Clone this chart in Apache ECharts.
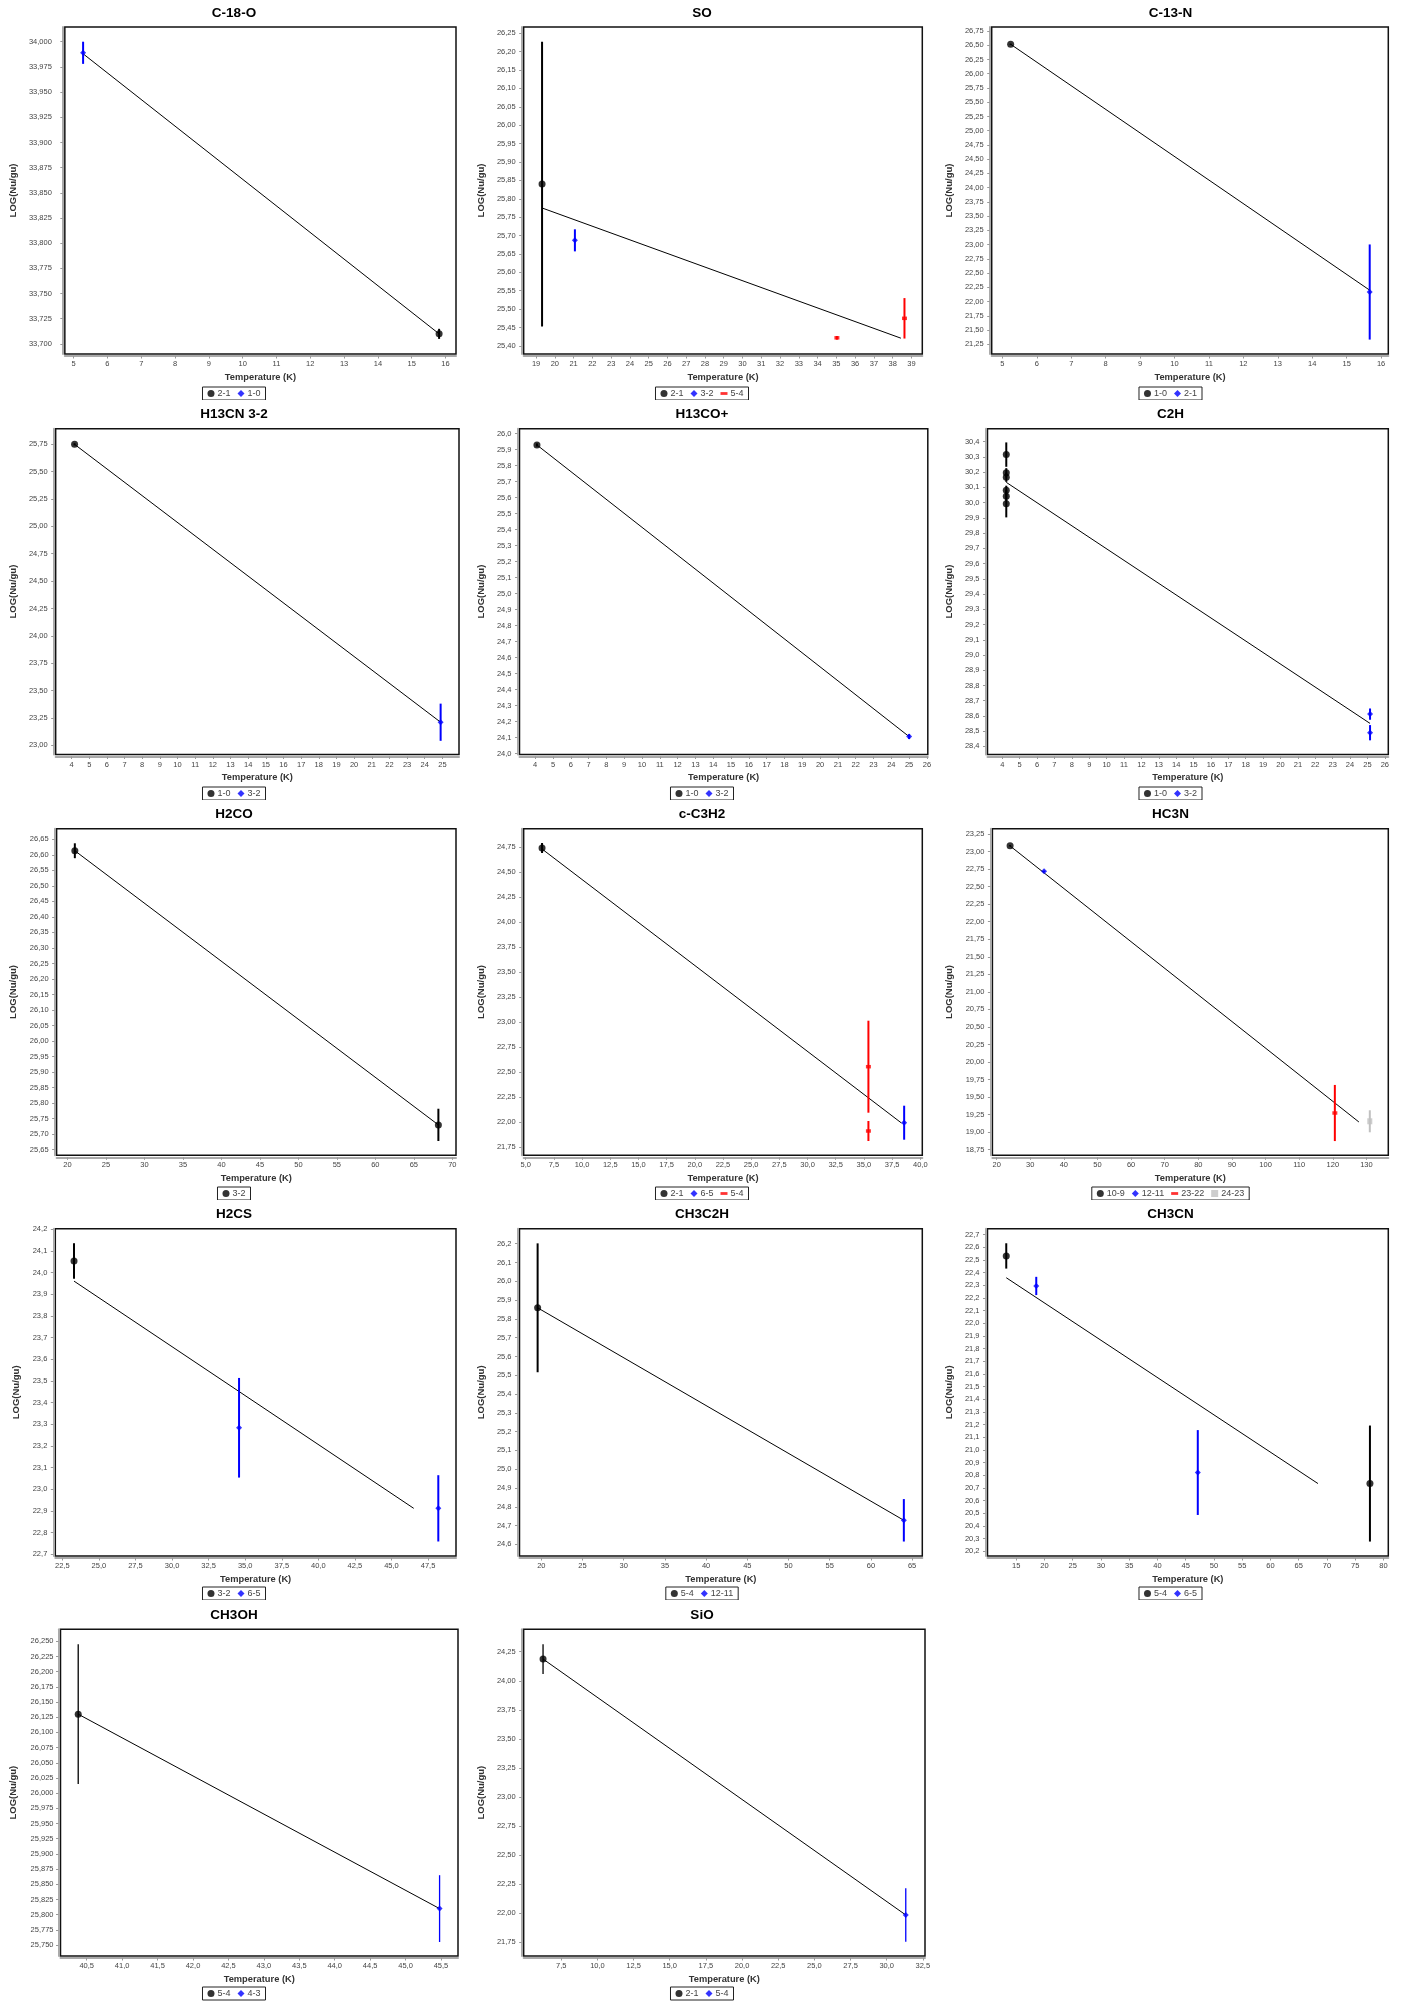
<!DOCTYPE html>
<html>
<head>
<meta charset="utf-8">
<title>Rotational diagrams</title>
<script src="https://cdn.jsdelivr.net/npm/echarts@6/dist/echarts.min.js"></script>
<style>
  html, body { margin: 0; padding: 0; background: #fff; }
  #page { position: relative; width: 1405px; height: 2002px; }
  .cell { position: absolute; }
</style>
</head>
<body>
<div id="page"></div>
<script>
// ---- measured points: [temperature K, LOG(Nu/gu), error] ----
// C-18-O
const C18O_21 = [[15.81, 33.710, 0.005]];
const C18O_10 = [[5.28, 33.989, 0.011]];
const C18O_FIT = [[5.28, 33.988], [15.81, 33.710]];
const C18O_XT = [5, 6, 7, 8, 9, 10, 11, 12, 13, 14, 15, 16];
const C18O_YT = [33.700, 33.725, 33.750, 33.775, 33.800, 33.825, 33.850, 33.875, 33.900, 33.925, 33.950, 33.975, 34.000];

// SO
const SO_21 = [[19.32, 25.840, 0.387]];
const SO_32 = [[21.07, 25.687, 0.030]];
const SO_54 = [[35.03, 25.422, 0.005], [38.63, 25.475, 0.055]];
const SO_FIT = [[19.32, 25.775], [38.44, 25.421]];
const SO_XT = [19, 20, 21, 22, 23, 24, 25, 26, 27, 28, 29, 30, 31, 32, 33, 34, 35, 36, 37, 38, 39];
const SO_YT = [25.40, 25.45, 25.50, 25.55, 25.60, 25.65, 25.70, 25.75, 25.80, 25.85, 25.90, 25.95, 26.00, 26.05, 26.10, 26.15, 26.20, 26.25];

// C-13-N
const C13N_10 = [[5.24, 26.517, 0.01]];
const C13N_21 = [[15.67, 22.168, 0.835]];
const C13N_FIT = [[5.24, 26.517], [15.67, 22.20]];
const C13N_XT = [5, 6, 7, 8, 9, 10, 11, 12, 13, 14, 15, 16];
const C13N_YT = [21.25, 21.50, 21.75, 22.00, 22.25, 22.50, 22.75, 23.00, 23.25, 23.50, 23.75, 24.00, 24.25, 24.50, 24.75, 25.00, 25.25, 25.50, 25.75, 26.00, 26.25, 26.50, 26.75];

// H13CN 3-2
const H13CN_10 = [[4.17, 25.75, 0.01]];
const H13CN_32 = [[24.9, 23.21, 0.17]];
const H13CN_FIT = [[4.17, 25.75], [24.9, 23.21]];
const H13CN_XT = [4, 5, 6, 7, 8, 9, 10, 11, 12, 13, 14, 15, 16, 17, 18, 19, 20, 21, 22, 23, 24, 25];
const H13CN_YT = [23.00, 23.25, 23.50, 23.75, 24.00, 24.25, 24.50, 24.75, 25.00, 25.25, 25.50, 25.75];

// H13CO+
const H13COP_10 = [[4.1, 25.929, 0.01]];
const H13COP_32 = [[25.0, 24.106, 0.015]];
const H13COP_FIT = [[4.1, 25.929], [25.0, 24.106]];
const H13COP_XT = [4, 5, 6, 7, 8, 9, 10, 11, 12, 13, 14, 15, 16, 17, 18, 19, 20, 21, 22, 23, 24, 25, 26];
const H13COP_YT = [24.0, 24.1, 24.2, 24.3, 24.4, 24.5, 24.6, 24.7, 24.8, 24.9, 25.0, 25.1, 25.2, 25.3, 25.4, 25.5, 25.6, 25.7, 25.8, 25.9, 26.0];

// C2H
const C2H_10 = [[4.23, 30.315, 0.08], [4.23, 30.196, 0.03], [4.23, 30.166, 0.03], [4.23, 30.081, 0.03], [4.23, 30.041, 0.03], [4.23, 29.993, 0.09]];
const C2H_32 = [[25.15, 28.612, 0.037], [25.15, 28.490, 0.05]];
const C2H_FIT = [[4.23, 30.133], [25.15, 28.551]];
const C2H_XT = [4, 5, 6, 7, 8, 9, 10, 11, 12, 13, 14, 15, 16, 17, 18, 19, 20, 21, 22, 23, 24, 25, 26];
const C2H_YT = [28.4, 28.5, 28.6, 28.7, 28.8, 28.9, 29.0, 29.1, 29.2, 29.3, 29.4, 29.5, 29.6, 29.7, 29.8, 29.9, 30.0, 30.1, 30.2, 30.3, 30.4];

// H2CO
const H2CO_32 = [[20.95, 26.613, 0.024], [68.19, 25.730, 0.052]];
const H2CO_FIT = [[20.95, 26.613], [68.19, 25.730]];
const H2CO_XT = [20, 25, 30, 35, 40, 45, 50, 55, 60, 65, 70];
const H2CO_YT = [25.65, 25.70, 25.75, 25.80, 25.85, 25.90, 25.95, 26.00, 26.05, 26.10, 26.15, 26.20, 26.25, 26.30, 26.35, 26.40, 26.45, 26.50, 26.55, 26.60, 26.65];

// c-C3H2
const CC3H2_21 = [[6.45, 24.740, 0.05]];
const CC3H2_65 = [[38.57, 21.993, 0.17]];
const CC3H2_54 = [[35.4, 22.553, 0.46], [35.4, 21.910, 0.10]];
const CC3H2_FIT = [[6.45, 24.73], [38.33, 21.99]];
const CC3H2_XT = [5.0, 7.5, 10.0, 12.5, 15.0, 17.5, 20.0, 22.5, 25.0, 27.5, 30.0, 32.5, 35.0, 37.5, 40.0];
const CC3H2_YT = [21.75, 22.00, 22.25, 22.50, 22.75, 23.00, 23.25, 23.50, 23.75, 24.00, 24.25, 24.50, 24.75];

// HC3N
const HC3N_109 = [[24.0, 23.083, 0.01]];
const HC3N_1211 = [[34.1, 22.718, 0.01]];
const HC3N_2322 = [[120.6, 19.273, 0.40]];
const HC3N_2423 = [[131.0, 19.155, 0.157]];
const HC3N_FIT = [[24.0, 23.08], [127.75, 19.145]];
const HC3N_XT = [20, 30, 40, 50, 60, 70, 80, 90, 100, 110, 120, 130];
const HC3N_YT = [18.75, 19.00, 19.25, 19.50, 19.75, 20.00, 20.25, 20.50, 20.75, 21.00, 21.25, 21.50, 21.75, 22.00, 22.25, 22.50, 22.75, 23.00, 23.25];

// H2CS
const H2CS_32 = [[23.3, 24.054, 0.082]];
const H2CS_65 = [[34.58, 23.284, 0.23], [48.2, 22.912, 0.153]];
const H2CS_FIT = [[23.3, 23.961], [46.52, 22.912]];
const H2CS_XT = [22.5, 25.0, 27.5, 30.0, 32.5, 35.0, 37.5, 40.0, 42.5, 45.0, 47.5];
const H2CS_YT = [22.7, 22.8, 22.9, 23.0, 23.1, 23.2, 23.3, 23.4, 23.5, 23.6, 23.7, 23.8, 23.9, 24.0, 24.1, 24.2];

// CH3C2H
const CH3C2H_54 = [[19.55, 25.859, 0.343]];
const CH3C2H_1211 = [[64.0, 24.728, 0.113]];
const CH3C2H_FIT = [[19.55, 25.859], [64.0, 24.728]];
const CH3C2H_XT = [20, 25, 30, 35, 40, 45, 50, 55, 60, 65];
const CH3C2H_YT = [24.6, 24.7, 24.8, 24.9, 25.0, 25.1, 25.2, 25.3, 25.4, 25.5, 25.6, 25.7, 25.8, 25.9, 26.0, 26.1, 26.2];

// CH3CN
const CH3CN_54 = [[13.25, 22.532, 0.10], [77.62, 20.735, 0.458]];
const CH3CN_65 = [[18.56, 22.295, 0.072], [47.15, 20.822, 0.335]];
const CH3CN_FIT = [[13.25, 22.36], [68.42, 20.735]];
const CH3CN_XT = [15, 20, 25, 30, 35, 40, 45, 50, 55, 60, 65, 70, 75, 80];
const CH3CN_YT = [20.2, 20.3, 20.4, 20.5, 20.6, 20.7, 20.8, 20.9, 21.0, 21.1, 21.2, 21.3, 21.4, 21.5, 21.6, 21.7, 21.8, 21.9, 22.0, 22.1, 22.2, 22.3, 22.4, 22.5, 22.6, 22.7];

// CH3OH
const CH3OH_54 = [[40.38, 26.130, 0.115]];
const CH3OH_43 = [[45.48, 25.810, 0.055]];
const CH3OH_FIT = [[40.38, 26.130], [45.48, 25.810]];
const CH3OH_XT = [40.5, 41.0, 41.5, 42.0, 42.5, 43.0, 43.5, 44.0, 44.5, 45.0, 45.5];
const CH3OH_YT = [25.750, 25.775, 25.800, 25.825, 25.850, 25.875, 25.900, 25.925, 25.950, 25.975, 26.000, 26.025, 26.050, 26.075, 26.100, 26.125, 26.150, 26.175, 26.200, 26.225, 26.250];

// SiO
const SIO_21 = [[6.24, 24.187, 0.128]];
const SIO_54 = [[31.32, 21.985, 0.23]];
const SIO_FIT = [[6.24, 24.187], [31.32, 21.985]];
const SIO_XT = [7.5, 10.0, 12.5, 15.0, 17.5, 20.0, 22.5, 25.0, 27.5, 30.0, 32.5];
const SIO_YT = [21.75, 22.00, 22.25, 22.50, 22.75, 23.00, 23.25, 23.50, 23.75, 24.00, 24.25];

// ---- panel layout (pixel geometry inside each 468x400 cell) ----
const panels = [
  { title: 'C-18-O', groups: [['2-1', C18O_21], ['1-0', C18O_10]], fit: C18O_FIT,
    xr: [4.74, 16.31], yr: [33.690, 34.0146], xt: C18O_XT, yt: C18O_YT, xd: 0, yd: 3,
    gl: 60, gr: 456, nameX: 15.7, labM: 11 },
  { title: 'SO', groups: [['2-1', SO_21], ['3-2', SO_32], ['5-4', SO_54]], fit: SO_FIT,
    xr: [18.34, 39.58], yr: [25.378, 26.267], xt: SO_XT, yt: SO_YT, xd: 0, yd: 2,
    gl: 53.3, gr: 454.3, nameX: 15.7, labM: 6 },
  { title: 'C-13-N', groups: [['1-0', C13N_10], ['2-1', C13N_21]], fit: C13N_FIT,
    xr: [4.69, 16.21], yr: [21.08, 26.82], xt: C13N_XT, yt: C13N_YT, xd: 0, yd: 2,
    gl: 51, gr: 452.3, nameX: 13.3, labM: 6 },
  { title: 'H13CN 3-2', groups: [['1-0', H13CN_10], ['3-2', H13CN_32]], fit: H13CN_FIT,
    xr: [3.1, 25.94], yr: [22.915, 25.893], xt: H13CN_XT, yt: H13CN_YT, xd: 0, yd: 2,
    gl: 50.4, gr: 459, nameX: 16.8, labM: 6 },
  { title: 'H13CO+', groups: [['1-0', H13COP_10], ['3-2', H13COP_32]], fit: H13COP_FIT,
    xr: [3.12, 26.05], yr: [23.994, 26.031], xt: H13COP_XT, yt: H13COP_YT, xd: 0, yd: 1,
    gl: 51, gr: 459.8, nameX: 18.2, labM: 6 },
  { title: 'C2H', groups: [['1-0', C2H_10], ['3-2', C2H_32]], fit: C2H_FIT,
    xr: [3.15, 26.2], yr: [28.347, 30.485], xt: C2H_XT, yt: C2H_YT, xd: 0, yd: 1,
    gl: 46.3, gr: 452.3, nameX: 13.3, labM: 6 },
  { title: 'H2CO', groups: [['3-2', H2CO_32]], fit: H2CO_FIT,
    xr: [18.58, 70.48], yr: [25.632, 26.684], xt: H2CO_XT, yt: H2CO_YT, xd: 0, yd: 2,
    gl: 55.3, gr: 456, nameX: 16.7, labM: 6 },
  { title: 'c-C3H2', groups: [['2-1', CC3H2_21], ['6-5', CC3H2_65], ['5-4', CC3H2_54]], fit: CC3H2_FIT,
    xr: [4.82, 40.18], yr: [21.667, 24.933], xt: CC3H2_XT, yt: CC3H2_YT, xd: 1, yd: 2,
    gl: 53.3, gr: 454.3, nameX: 15.7, labM: 6 },
  { title: 'HC3N', groups: [['10-9', HC3N_109], ['12-11', HC3N_1211], ['23-22', HC3N_2322], ['24-23', HC3N_2423]], fit: HC3N_FIT,
    xr: [18.74, 136.5], yr: [18.67, 23.326], xt: HC3N_XT, yt: HC3N_YT, xd: 0, yd: 2,
    gl: 51.7, gr: 452.3, nameX: 13.3, labM: 6 },
  { title: 'H2CS', groups: [['3-2', H2CS_32], ['6-5', H2CS_65]], fit: H2CS_FIT,
    xr: [22.02, 49.41], yr: [22.692, 24.203], xt: H2CS_XT, yt: H2CS_YT, xd: 1, yd: 1,
    gl: 55.3, gr: 456, nameX: 22.7, labM: 6 },
  { title: 'CH3C2H', groups: [['5-4', CH3C2H_54], ['12-11', CH3C2H_1211]], fit: CH3C2H_FIT,
    xr: [17.35, 66.24], yr: [24.538, 26.28], xt: CH3C2H_XT, yt: CH3C2H_YT, xd: 0, yd: 1,
    gl: 48.7, gr: 454.3, nameX: 15.7, labM: 6 },
  { title: 'CH3CN', groups: [['5-4', CH3CN_54], ['6-5', CH3CN_65]], fit: CH3CN_FIT,
    xr: [9.93, 80.87], yr: [20.163, 22.747], xt: CH3CN_XT, yt: CH3CN_YT, xd: 0, yd: 1,
    gl: 46.3, gr: 452.3, nameX: 13.3, labM: 6 },
  { title: 'CH3OH', groups: [['5-4', CH3OH_54], ['4-3', CH3OH_43]], fit: CH3OH_FIT,
    xr: [40.13, 45.74], yr: [25.732, 26.2697], xt: CH3OH_XT, yt: CH3OH_YT, xd: 1, yd: 3,
    gl: 60.5, gr: 458, nameX: 18, labM: 5, errW: 1.3 },
  { title: 'SiO', groups: [['2-1', SIO_21], ['5-4', SIO_54]], fit: SIO_FIT,
    xr: [4.9, 32.65], yr: [21.632, 24.443], xt: SIO_XT, yt: SIO_YT, xd: 1, yd: 2,
    gl: 48.2, gr: 457, nameX: 11, labM: 6, errW: 1.3 }
];

// plot box top/bottom and title centre for each row of cells
const rowGeom = [
  { top: 27, bottom: 354, titleY: 14 },
  { top: 28.7, bottom: 354.5, titleY: 15.5 },
  { top: 28.7, bottom: 355.3, titleY: 15 },
  { top: 28.7, bottom: 356, titleY: 15.5 },
  { top: 29.3, bottom: 356, titleY: 16.5 }
];
const colLeft = [0, 468, 936];
const colWidth = [468, 468, 469];

// marker look per transition order inside a panel
const markerStyles = [
  { color: '#000000', symbol: 'circle', size: 7, icon: 'circle' },
  { color: '#0000ff', symbol: 'diamond', size: 6, icon: 'diamond' },
  { color: '#ff0000', symbol: 'rect', size: [5, 3.5], icon: 'path://M0,3L10,3L10,7L0,7Z' },
  { color: '#c0c0c0', symbol: 'rect', size: [5, 6], icon: 'rect' }
];

const FONT = "'Liberation Sans', Arial, Helvetica, sans-serif";
const fmt = (v, d) => v.toFixed(d).replace('.', ',');

const page = document.getElementById('page');

panels.forEach((p, i) => {
  const col = i % 3, row = Math.floor(i / 3);
  const geom = rowGeom[row];
  const div = document.createElement('div');
  div.className = 'cell';
  div.style.left = colLeft[col] + 'px';
  div.style.top = (row * 400) + 'px';
  div.style.width = colWidth[col] + 'px';
  div.style.height = (row === 4 ? 402 : 400) + 'px';
  page.appendChild(div);

  const chart = echarts.init(div, null, { renderer: 'canvas' });
  const axisOffset = 2;
  const errW = p.errW || 2;

  const series = [];
  // fitted straight line
  series.push({
    type: 'line', name: 'fit', data: p.fit, symbol: 'none', z: 2,
    lineStyle: { color: '#000', width: 1 }, silent: true
  });
  p.groups.forEach(([name, pts], k) => {
    const st = markerStyles[k];
    // vertical error bars
    series.push({
      type: 'custom', name: name + ' err', data: pts, z: 3, silent: true,
      encode: { x: 0, y: 1 },
      renderItem: (params, api) => {
        const x = api.value(0), y = api.value(1), e = api.value(2);
        const a = api.coord([x, y + e]);
        const b = api.coord([x, y - e]);
        return {
          type: 'line',
          shape: { x1: a[0], y1: a[1], x2: b[0], y2: b[1] },
          style: { stroke: st.color, lineWidth: errW }
        };
      }
    });
    series.push({
      type: 'scatter', name: name, data: pts, z: 4,
      symbol: st.symbol, symbolSize: st.size,
      itemStyle: { color: st.color }
    });
  });

  const option = {
    animation: false,
    backgroundColor: '#fff',
    textStyle: { fontFamily: FONT },
    title: {
      text: p.title, left: 'center', top: geom.titleY - 8, padding: 0,
      textStyle: { fontFamily: FONT, fontSize: 13.5, fontWeight: 'bold', color: '#000' }
    },
    legend: {
      top: 387, left: 'center', orient: 'horizontal',
      data: p.groups.map(([name], k) => ({ name, icon: markerStyles[k].icon })),
      borderColor: '#222', borderWidth: 1, padding: [2, 5], itemGap: 7,
      itemWidth: 7, itemHeight: 7, selectedMode: false,
      textStyle: { fontFamily: FONT, fontSize: 9, color: '#444', padding: [0, 0, 0, -2] }
    },
    grid: {
      left: p.gl, top: geom.top, width: p.gr - p.gl, height: geom.bottom - geom.top,
      show: true, borderColor: '#111', borderWidth: 1.5, backgroundColor: '#fff',
      containLabel: false
    },
    xAxis: {
      type: 'value', min: p.xr[0], max: p.xr[1], offset: axisOffset,
      name: 'Temperature (K)', nameLocation: 'middle', nameGap: 15,
      nameTextStyle: { fontFamily: FONT, fontSize: 9.3, fontWeight: 'bold', color: '#333' },
      axisLine: { show: true, onZero: false, lineStyle: { color: '#aaa', width: 2 } },
      axisTick: { show: true, customValues: p.xt, length: 2.5, lineStyle: { color: '#999', width: 1 } },
      axisLabel: { customValues: p.xt, margin: 4, fontFamily: FONT, fontSize: 7.5, color: '#444',
                   formatter: v => fmt(v, p.xd) },
      splitLine: { show: false }
    },
    yAxis: {
      type: 'value', min: p.yr[0], max: p.yr[1], offset: axisOffset,
      name: 'LOG(Nu/gu)', nameLocation: 'middle',
      nameGap: (p.gl - axisOffset) - p.nameX,
      nameTextStyle: { fontFamily: FONT, fontSize: 9.5, fontWeight: 'bold', color: '#333' },
      axisLine: { show: true, onZero: false, lineStyle: { color: '#aaa', width: 2 } },
      axisTick: { show: true, customValues: p.yt, length: 2.5, lineStyle: { color: '#999', width: 1 } },
      axisLabel: { customValues: p.yt, margin: p.labM, fontFamily: FONT, fontSize: 7.5, color: '#444',
                   formatter: v => fmt(v, p.yd) },
      splitLine: { show: false }
    },
    series
  };
  chart.setOption(option);
});
</script>
</body>
</html>
